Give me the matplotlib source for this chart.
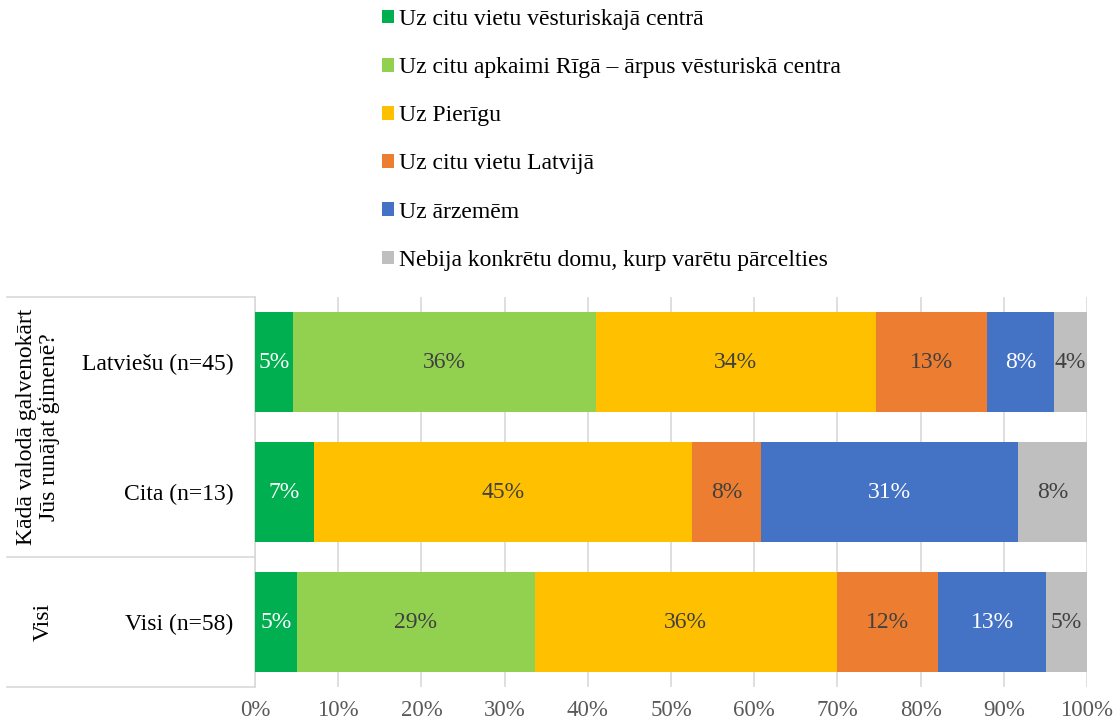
import matplotlib.pyplot as plt
from matplotlib.patches import Patch

plt.rcParams['font.family'] = ['Liberation Serif', 'DejaVu Serif']

# rows, top to bottom
row_labels = ["Latviešu (n=45)", "Cita (n=13)", "Visi (n=58)"]
series_names = [
	"Uz citu vietu vēsturiskajā centrā",
	"Uz citu apkaimi Rīgā – ārpus vēsturiskā centra",
	"Uz Pierīgu",
	"Uz citu vietu Latvijā",
	"Uz ārzemēm",
	"Nebija konkrētu domu, kurp varētu pārcelties",
]
# percent per series, one value per row
vesturiskais_centrs = [4.6, 7.1, 5.0]
cita_apkaime = [36.4, 0.0, 28.6]
pieriga = [33.6, 45.4, 36.3]
cita_vieta_latvija = [13.4, 8.3, 12.2]
arzemes = [8.0, 30.9, 13.0]
nav_domu = [4.0, 8.3, 4.9]

series_values = [vesturiskais_centrs, cita_apkaime, pieriga,
	cita_vieta_latvija, arzemes, nav_domu]
colors = ["#00B050", "#92D050", "#FFC000", "#ED7D31", "#4472C4", "#BFBFBF"]
label_colors = ["white", "#404040", "#404040", "#404040", "white", "#404040"]

W, H = 1119, 726
fig = plt.figure(figsize=(W / 100, H / 100), dpi=100)
ax_l, ax_r, ax_t, ax_b = 255, 1087, 297, 687
ax = fig.add_axes([ax_l / W, (H - ax_b) / H, (ax_r - ax_l) / W, (ax_b - ax_t) / H])

y = list(range(len(row_labels)))
left = [0.0] * len(row_labels)
for vals, col, lcol in zip(series_values, colors, label_colors):
	bars = ax.barh(y, vals, left=left, height=0.77, color=col, zorder=3)
	labels = [f"{v:.0f}%" if v > 0 else "" for v in vals]
	ax.bar_label(bars, labels=labels, label_type='center', color=lcol,
		fontsize=17)
	left = [a + b for a, b in zip(left, vals)]

ax.set_xlim(0, 100)
ax.set_ylim(2.5, -0.5)
ax.set_xticks(range(0, 101, 10))
ax.set_xticklabels([f"{t}%" for t in range(0, 101, 10)], color="#595959",
	fontsize=16.5)
ax.set_yticks(y)
ax.set_yticklabels(row_labels, fontsize=17, color="black")
ax.tick_params(axis='x', length=0, pad=9)
ax.tick_params(axis='y', length=0, pad=15.5)
ax.grid(axis='x', color="#D9D9D9", linewidth=1.2, zorder=0)
for s in ['top', 'right', 'bottom']:
	ax.spines[s].set_visible(False)
ax.spines['left'].set_color("#D9D9D9")
ax.spines['left'].set_linewidth(1.2)

# table lines on the left
x0 = (7 - ax_l) / (ax_r - ax_l)
for yy in [1.0, 1.0 - (557 - ax_t) / (ax_b - ax_t), 0.0]:
	ax.plot([x0, 0], [yy, yy], transform=ax.transAxes, clip_on=False,
		color="#D9D9D9", linewidth=1.2)

fig.text(38 / W, 1 - 427 / H, "Kādā valodā galvenokārt\nJūs runājat ģimenē?",
	rotation=90, ha='center', va='center', fontsize=17, linespacing=1.0)
fig.text(43 / W, 1 - 622 / H, "Visi", rotation=90, ha='center', va='center',
	fontsize=17)

handles = [Patch(facecolor=c) for c in colors]
fig.legend(handles, series_names, loc='upper left',
	bbox_to_anchor=(382 / W, 1 - 9 / H), frameon=False, fontsize=17,
	borderpad=0, borderaxespad=0,
	handlelength=0.5, handleheight=0.5, handletextpad=0.2, labelspacing=1.15)

fig.savefig("out.png", dpi=100)
